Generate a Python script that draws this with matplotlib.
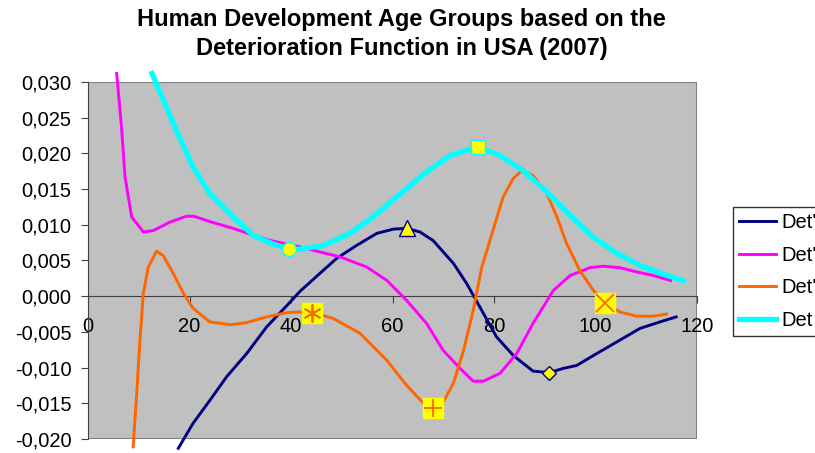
import matplotlib.pyplot as plt
from matplotlib.patches import Rectangle
from matplotlib.ticker import FuncFormatter

plt.rcParams['font.family'] = ['Liberation Sans', 'DejaVu Sans']

# Det' (first derivative)
d1_age = [17.8, 20.7, 24.0, 27.3, 31.3, 35.2, 39.2, 41.8, 45.7, 49.0, 52.9, 56.9, 60.2,
          62.8, 65.4, 68.0, 72.0, 74.6, 77.2, 80.5, 83.8, 87.7, 90.9, 93.7, 96.3, 99.6,
          104.2, 108.8, 112.7, 115.9]
d1_val = [-0.0213, -0.0178, -0.0146, -0.0113, -0.0080, -0.0043, -0.0013, 0.0007, 0.0032,
          0.0053, 0.0071, 0.0088, 0.0094, 0.0095, 0.0090, 0.0078, 0.0046, 0.0018, -0.0015,
          -0.0057, -0.0083, -0.0105, -0.0107, -0.0101, -0.0097, -0.0083, -0.0064, -0.0045,
          -0.0036, -0.0029]

# Det'' (second derivative)
d2_age = [5.65, 6.6, 7.3, 8.6, 10.9, 12.9, 16.2, 19.4, 20.8, 24.7, 28.6, 31.9, 35.9, 39.2,
          41.8, 45.7, 49.7, 54.9, 58.9, 62.8, 66.7, 70.0, 73.3, 75.9, 77.9, 81.2, 84.5,
          87.7, 91.7, 95.0, 98.9, 101.5, 104.8, 108.1, 111.4, 114.8]
d2_val = [0.0312, 0.0237, 0.0167, 0.0111, 0.0090, 0.0092, 0.0104, 0.0112, 0.0112, 0.0103,
          0.0095, 0.0087, 0.0078, 0.0073, 0.0069, 0.0062, 0.0055, 0.0041, 0.0022, -0.0006,
          -0.0038, -0.0076, -0.0101, -0.0119, -0.0119, -0.0108, -0.0080, -0.0038, 0.0008,
          0.0029, 0.0040, 0.0042, 0.0040, 0.0034, 0.0029, 0.0022]

# Det''' (third derivative)
d3_age = [8.9, 9.6, 10.2, 10.9, 11.9, 13.5, 14.8, 16.8, 18.8, 20.7, 24.0, 28.0, 31.3, 35.2,
          39.2, 41.8, 44.1, 48.3, 53.6, 58.9, 62.8, 66.1, 68.0, 70.0, 72.0, 74.0, 75.9,
          77.6, 79.2, 81.8, 83.8, 85.5, 87.7, 90.4, 92.4, 94.3, 96.9, 99.6, 101.9, 104.8,
          108.1, 111.4, 114.0]
d3_val = [-0.0211, -0.0136, -0.0066, 0.0004, 0.0041, 0.0063, 0.0057, 0.0032, 0.0004,
          -0.0017, -0.0036, -0.0040, -0.0037, -0.0029, -0.0023, -0.0022, -0.0023, -0.0031,
          -0.0052, -0.0090, -0.0125, -0.0150, -0.0157, -0.0148, -0.0122, -0.0076, -0.0020,
          0.0041, 0.0078, 0.0139, 0.0165, 0.0176, 0.0169, 0.0144, 0.0111, 0.0074, 0.0036,
          0.0008, -0.0009, -0.0022, -0.0028, -0.0028, -0.0025]

# Det (deterioration function)
d0_age = [12.6, 16.8, 20.7, 24.0, 28.6, 32.6, 36.5, 39.7, 41.8, 46.4, 51.6, 56.2, 60.8,
          66.7, 71.3, 76.9, 81.2, 85.7, 90.4, 95.0, 99.5, 104.2, 108.8, 113.3, 117.2]
d0_val = [0.0312, 0.0242, 0.0181, 0.0144, 0.0111, 0.0085, 0.0073, 0.0066, 0.0066, 0.0071,
          0.0088, 0.0111, 0.0139, 0.0174, 0.0197, 0.0209, 0.0197, 0.0176, 0.0146, 0.0113,
          0.0083, 0.0060, 0.0043, 0.0031, 0.0022]

# age group boundaries (special points)
det_min = (39.7, 0.0066)
det_max = (76.9, 0.0209)
d1_max = (62.8, 0.0095)
d1_min = (90.9, -0.0107)
d3_pts_age = [44.1, 68.0, 101.9]
d3_pts_val = [-0.0023, -0.0157, -0.0009]

fig = plt.figure(figsize=(8.15, 4.53), dpi=100)
ax = fig.add_axes([88 / 815, 14 / 453, 609 / 815, 357 / 453])
ax.set_facecolor('#C0C0C0')
ax.set_xlim(0, 120)
ax.set_ylim(-0.020, 0.030)

ax.plot(d1_age, d1_val, color='#000080', lw=2.1, label="Det'", clip_on=False, zorder=3)
ax.plot(d2_age, d2_val, color='#FF00FF', lw=2.1, label="Det''", clip_on=False, zorder=3)
ax.plot(d3_age, d3_val, color='#FF6600', lw=2.1, label="Det'''", clip_on=False, zorder=3)
ax.plot(d0_age, d0_val, color='#00FFFF', lw=3.8, label="Det", clip_on=False, zorder=3)

# markers
ax.plot(*det_min, 'o', ms=10, mfc='#FFFF00', mec='#00FFFF', mew=1, zorder=5)
ax.plot(*det_max, 's', ms=10, mfc='#FFFF00', mec='#00FFFF', mew=1, zorder=5)
ax.plot(*d1_max, '^', ms=11, mfc='#FFFF00', mec='#000080', mew=1, zorder=5)
ax.plot(*d1_min, 'D', ms=7.5, mfc='#FFFF00', mec='#000080', mew=1, zorder=5)
ax.plot(d3_pts_age, d3_pts_val, 's', ms=14, mfc='#FFFF00', mec='#FFFF00', zorder=5)
for (a, v), m in zip(zip(d3_pts_age, d3_pts_val), [(6, 2, 0), '+', 'x']):
    ax.plot(a, v, marker=m, ms=13, mec='#FF6600', mew=1.3, ls='none', zorder=6)

# axes styling
ax.spines['top'].set_visible(False)
ax.spines['right'].set_visible(False)
ax.spines['bottom'].set_position(('data', 0))
ax.spines['bottom'].set_color('#404040')
ax.spines['left'].set_color('#404040')
ax.spines['bottom'].set_zorder(2)
ax.add_patch(Rectangle((0, 0), 1, 1, transform=ax.transAxes, fill=False,
                       ec='#808080', lw=1.5, zorder=1))

ax.set_xticks(range(0, 121, 20))
ax.set_yticks([-0.020 + 0.005 * i for i in range(11)])
ax.yaxis.set_major_formatter(FuncFormatter(lambda v, p: f"{v:.3f}".replace('.', ',').replace('-0,000', '0,000')))
ax.tick_params(axis='both', labelsize=14.5, length=5, color='#404040', direction='out')
ax.tick_params(axis='x', pad=10)
ax.tick_params(axis='y', pad=7)

fig.suptitle("Human Development Age Groups based on the\nDeterioration Function in USA (2007)",
             x=0.493, y=0.982, fontsize=17, fontweight='bold', linespacing=1.3)

leg = fig.legend(loc='upper left', bbox_to_anchor=(733 / 815, 1 - 207 / 453), fontsize=14.5,
                 frameon=True, fancybox=False, edgecolor='black', handlelength=1.85,
                 borderpad=0.3, labelspacing=0.68, handletextpad=0.25, borderaxespad=0)
leg.get_frame().set_linewidth(1.0)

fig.savefig('out.png', dpi=100)
